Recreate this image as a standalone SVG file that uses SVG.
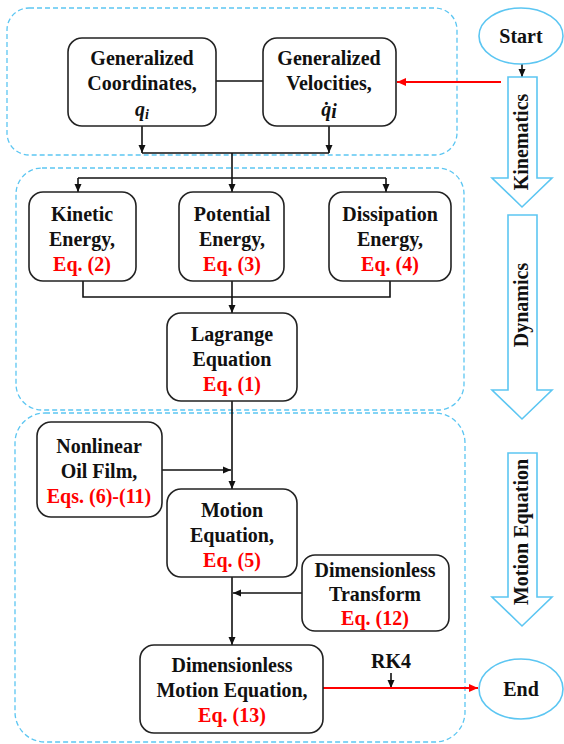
<svg xmlns="http://www.w3.org/2000/svg" width="564" height="744" viewBox="0 0 564 744">
<defs>
<style>
.grp{fill:none;stroke:#5cc6f2;stroke-width:1.3;stroke-dasharray:5 3}
.box{fill:#fff;stroke:#222;stroke-width:1.6}
.t{font-family:"Liberation Serif","Times New Roman",serif;font-weight:bold;font-size:20px;fill:#111;text-anchor:middle}
.r{fill:#ff0000}
.ln{fill:none;stroke:#111;stroke-width:1.6}
.red{fill:none;stroke:#ff0000;stroke-width:1.8}
.big{fill:#fff;stroke:#5cc6f2;stroke-width:1.6}
.ell{fill:#fff;stroke:#5cc6f2;stroke-width:1.6}
</style>
<marker id="ah" markerUnits="userSpaceOnUse" markerWidth="8" markerHeight="8" refX="8" refY="4" orient="auto"><path d="M0,0.5 L8,4 L0,7.5 z" fill="#111"/></marker>
<marker id="ahr" markerUnits="userSpaceOnUse" markerWidth="9" markerHeight="9" refX="9" refY="4.5" orient="auto"><path d="M0,0.5 L9,4.5 L0,8.5 z" fill="#ff0000"/></marker>
</defs>
<rect width="564" height="744" fill="#fff"/>

<g id="groups">
<rect class="grp" x="7" y="8" width="450" height="147" rx="22"/>
<rect class="grp" x="16" y="168" width="448" height="242" rx="26"/>
<rect class="grp" x="15" y="413" width="450" height="329" rx="30"/>
</g>

<g id="connectors">
<line class="ln" x1="216" y1="81" x2="263" y2="81"/>
<path class="ln" d="M142,126 V153" marker-end="url(#ah)"/>
<path class="ln" d="M329,126 V153" marker-end="url(#ah)"/>
<path class="ln" d="M142,153 H329"/>
<path class="ln" d="M232,153 V192" marker-end="url(#ah)"/>
<path class="ln" d="M78,178 H386"/>
<path class="ln" d="M78,178 V192" marker-end="url(#ah)"/>
<path class="ln" d="M386,178 V192" marker-end="url(#ah)"/>
<path class="ln" d="M83,281 V297 H390 V281"/>
<path class="ln" d="M232,281 V313" marker-end="url(#ah)"/>
<path class="ln" d="M232,401 V489" marker-end="url(#ah)"/>
<path class="ln" d="M162,470 H231" marker-end="url(#ah)"/>
<path class="ln" d="M302,593 H233" marker-end="url(#ah)"/>
<path class="ln" d="M232,577 V645" marker-end="url(#ah)"/>
<path class="ln" d="M522,64 V77" marker-end="url(#ah)"/>
<path class="ln" d="M391,673 V688" marker-end="url(#ah)"/>
<path class="red" d="M501,82 H397" marker-end="url(#ahr)"/>
<path class="red" d="M323,688 H478" marker-end="url(#ahr)"/>
</g>

<g id="start">
<ellipse class="ell" cx="521" cy="36" rx="42" ry="28"/>
<text class="t" x="521" y="43">Start</text>
</g>
<g id="end">
<ellipse class="ell" cx="521" cy="689" rx="42" ry="30"/>
<text class="t" x="521" y="696">End</text>
</g>

<g id="kinematics-arrow">
<path class="big" d="M508,77 H537 V178 H552 L522,207 L492,178 H508 Z"/>
<text class="t" transform="translate(528,142) rotate(-90)" x="0" y="0">Kinematics</text>
</g>
<g id="dynamics-arrow">
<path class="big" d="M508,215 H537 V390 H552 L522,419 L492,390 H508 Z"/>
<text class="t" transform="translate(528,305) rotate(-90)" x="0" y="0">Dynamics</text>
</g>
<g id="motion-arrow">
<path class="big" d="M508,453 H537 V597 H552 L522,626 L492,597 H508 Z"/>
<text class="t" transform="translate(528,532) rotate(-90)" x="0" y="0">Motion Equation</text>
</g>

<g id="gen-coord">
<rect class="box" x="68" y="38" width="148" height="88" rx="14"/>
<text class="t" x="142" y="65">Generalized</text>
<text class="t" x="142" y="90">Coordinates,</text>
<text class="t" x="142" y="116" font-style="italic">q<tspan font-size="14" dy="3">i</tspan></text>
</g>
<g id="gen-vel">
<rect class="box" x="263" y="38" width="133" height="88" rx="14"/>
<text class="t" x="329" y="65">Generalized</text>
<text class="t" x="329" y="90">Velocities,</text>
<text class="t" x="329" y="116" font-style="italic">q̇<tspan dy="2">i</tspan></text>
</g>

<g id="kinetic">
<rect class="box" x="29" y="192" width="107" height="89" rx="14"/>
<text class="t" x="82" y="221">Kinetic</text>
<text class="t" x="82" y="246">Energy,</text>
<text class="t r" x="82" y="271">Eq. (2)</text>
</g>
<g id="potential">
<rect class="box" x="179" y="192" width="105" height="89" rx="14"/>
<text class="t" x="232" y="221">Potential</text>
<text class="t" x="232" y="246">Energy,</text>
<text class="t r" x="232" y="271">Eq. (3)</text>
</g>
<g id="dissipation">
<rect class="box" x="329" y="192" width="122" height="89" rx="14"/>
<text class="t" x="390" y="221">Dissipation</text>
<text class="t" x="390" y="246">Energy,</text>
<text class="t r" x="390" y="271">Eq. (4)</text>
</g>
<g id="lagrange">
<rect class="box" x="167" y="313" width="130" height="88" rx="14"/>
<text class="t" x="232" y="341">Lagrange</text>
<text class="t" x="232" y="366">Equation</text>
<text class="t r" x="232" y="391">Eq. (1)</text>
</g>

<g id="nonlinear">
<rect class="box" x="37" y="422" width="125" height="95" rx="14"/>
<text class="t" x="99" y="453">Nonlinear</text>
<text class="t" x="99" y="478">Oil Film,</text>
<text class="t r" x="99" y="503">Eqs. (6)-(11)</text>
</g>
<g id="motion">
<rect class="box" x="167" y="489" width="130" height="88" rx="14"/>
<text class="t" x="232" y="517">Motion</text>
<text class="t" x="232" y="542">Equation,</text>
<text class="t r" x="232" y="567">Eq. (5)</text>
</g>
<g id="dim-transform">
<rect class="box" x="302" y="555" width="147" height="76" rx="13"/>
<text class="t" x="375" y="577">Dimensionless</text>
<text class="t" x="375" y="601">Transform</text>
<text class="t r" x="375" y="625">Eq. (12)</text>
</g>
<g id="dim-motion">
<rect class="box" x="140" y="645" width="183" height="88" rx="14"/>
<text class="t" x="232" y="672">Dimensionless</text>
<text class="t" x="232" y="697">Motion Equation,</text>
<text class="t r" x="232" y="722">Eq. (13)</text>
</g>
<g id="rk4">
<text class="t" x="391" y="668">RK4</text>
</g>
</svg>
